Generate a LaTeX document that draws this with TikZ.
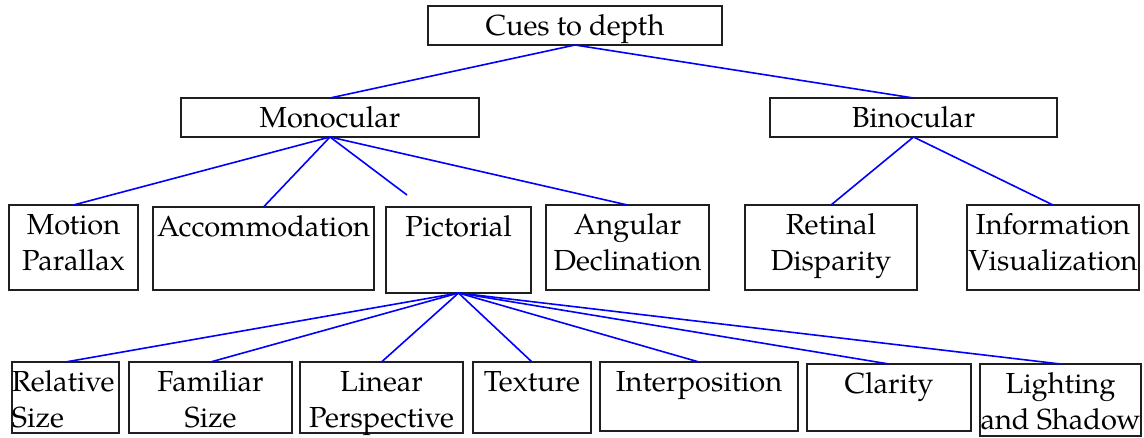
\documentclass[tikz,border=0pt]{standalone}
\usepackage{fontspec}
\setmainfont{TeX Gyre Pagella}
\newcommand\bxt[4]{\parbox[c][#2pt][t]{#1pt}{#3\rule{0pt}{29pt}#4}}
\tikzset{
  box/.style={draw=black!88, line width=2pt, inner sep=0pt, outer sep=0pt,
    rectangle, font=\fontsize{29}{36}\selectfont},
  link/.style={draw=blue, line width=1.6pt}
}
\begin{document}
\begin{tikzpicture}[x=1pt,y=-1pt]
\useasboundingbox (0,0) rectangle (1144,437);
% level 0
\node[box] (cues) at (575,25.5) {\bxt{294}{39}{\centering}{Cues to depth}};
% level 1
\node[box] (mono) at (330,117.5) {\bxt{298}{39}{\centering}{Monocular}};
\node[box] (bino) at (913.5,117.5) {\bxt{287}{39}{\centering}{Binocular}};
% level 2
\node[box] (motion) at (73.5,247.5) {\bxt{129}{85}{\centering}{Motion\\Parallax}};
\node[box] (accom) at (263.5,248.5) {\bxt{221}{83}{\centering}{Accommodation}};
\node[box] (pict) at (458.5,250) {\bxt{145}{86}{\centering}{Pictorial}};
\node[box] (angular) at (627.5,247.5) {\bxt{163}{85}{\centering}{Angular\\Declination}};
\node[box] (retinal) at (831,247.5) {\bxt{172}{85}{\centering}{Retinal\\Disparity}};
\node[box] (info) at (1053,247.5) {\bxt{172}{85}{\centering}{Information\\Visualization}};
\coordinate (pictfree) at (407,195);
% level 3
\node[box] (relsize) at (65.5,397.5) {\bxt{107}{71}{\raggedright}{Relative\\Size}};
\node[box] (famsize) at (210.5,397.5) {\bxt{163}{71}{\centering}{Familiar\\Size}};
\node[box] (linear) at (381.5,397.5) {\bxt{163}{71}{\centering}{Linear\\Perspective}};
\node[box] (texture) at (532,397.5) {\bxt{118}{71}{\centering}{Texture}};
\node[box] (interp) at (699,396.5) {\bxt{198}{69}{\centering}{Interposition}};
\node[box] (clarity) at (889,397.5) {\bxt{164}{67}{\centering}{Clarity}};
\node[box] (light) at (1060.5,400) {\bxt{161}{72}{\centering}{Lighting\\and Shadow}};
% connectors
\draw[link] (cues.south) -- (mono.north);
\draw[link] (cues.south) -- (bino.north);
\draw[link] (mono.south) -- (motion.north);
\draw[link] (mono.south) -- (accom.north);
\draw[link] (mono.south) -- (pictfree);
\draw[link] (mono.south) -- (angular.north);
\draw[link] (bino.south) -- (retinal.north);
\draw[link] (bino.south) -- (info.north);
\draw[link] (pict.south) -- (relsize.north);
\draw[link] (pict.south) -- (famsize.north);
\draw[link] (pict.south) -- (linear.north);
\draw[link] (pict.south) -- (texture.north);
\draw[link] (pict.south) -- (interp.north);
\draw[link] (pict.south) -- (clarity.north);
\draw[link] (pict.south) -- (light.north);
\end{tikzpicture}
\end{document}
